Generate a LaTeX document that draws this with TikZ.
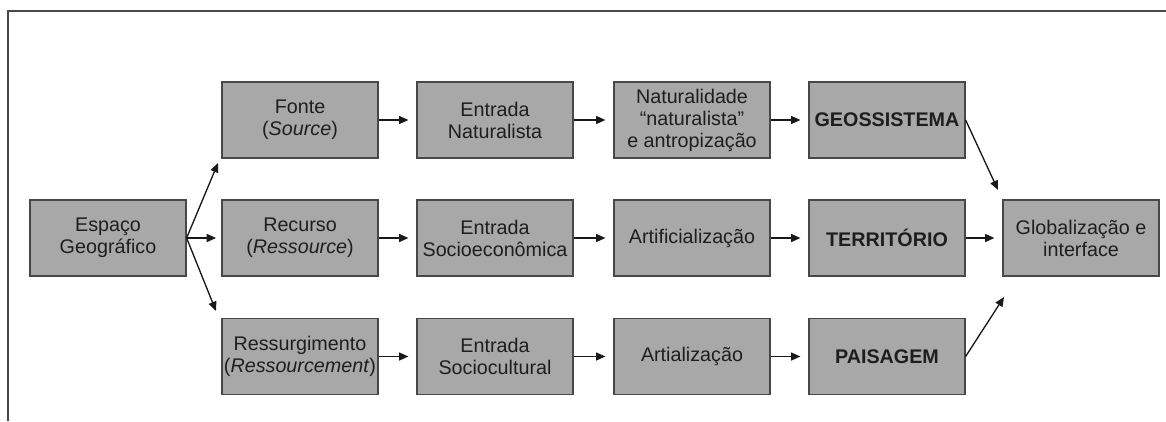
\documentclass[tikz,border=0pt]{standalone}
\usepackage{fontspec}
\setmainfont{Liberation Sans}
\usetikzlibrary{arrows.meta}
\definecolor{boxfill}{HTML}{A8A8A8}
\definecolor{boxline}{HTML}{484848}
\definecolor{txt}{HTML}{1E1E1E}
\definecolor{framec}{HTML}{484848}
\tikzset{
  stagebox/.style={draw=boxline, line width=0.9pt, fill=boxfill, text=txt,
    minimum width=117pt, minimum height=57pt, inner sep=0pt, align=center,
    font=\fontsize{14.8}{16.5}\selectfont},
  flowarrow/.style={draw=black!90, line width=1pt, -{Triangle[length=7pt,width=6pt]}},
}
\begin{document}
\begin{tikzpicture}[x=0.75pt,y=-0.75pt]
\useasboundingbox[fill=white] (0,0) rectangle (1166,421);
\draw[framec, line width=1.2pt] (8,421) -- (8,11) -- (1166,11);

\node[stagebox] (esp) at (108,238) {Espaço\\Geográfico};

\node[stagebox] (fon) at (300,120) {Fonte\\(\textit{Source})};
\node[stagebox] (rec) at (300,238) {Recurso\\(\textit{Ressource})};
\node[stagebox] (res) at (300,356.5) {Ressurgimento\\(\textit{Ressourcement})};

\node[stagebox] (ent1) at (495,120) {Entrada\\Naturalista};
\node[stagebox] (ent2) at (495,238) {Entrada\\Socioeconômica};
\node[stagebox] (ent3) at (495,356.5) {Entrada\\Sociocultural};

\node[stagebox] (nat) at (692,120) {Naturalidade\\``naturalista''\\e antropização};
\node[stagebox] (art) at (692,238) {Artificialização};
\node[stagebox] (artl) at (692,356.5) {Artialização};

\node[stagebox] (geo) at (887,120) {\textbf{GEOSSISTEMA}};
\node[stagebox] (ter) at (887,238) {\textbf{TERRITÓRIO}};
\node[stagebox] (pai) at (887,356.5) {\textbf{PAISAGEM}};

\node[stagebox] (glo) at (1081,238) {Globalização e\\interface};

\coordinate (t1) at (218,163);
\coordinate (t3) at (216,311);
\coordinate (g1) at (998,190);
\coordinate (g3) at (1004,297);

\draw[flowarrow] (esp.east) -- (t1);
\draw[flowarrow, shorten >=4pt] (esp.east) -- (rec.west);
\draw[flowarrow] (esp.east) -- (t3);

\foreach \a/\b in {fon/ent1, rec/ent2, res/ent3, ent1/nat, ent2/art, ent3/artl, nat/geo, art/ter, artl/pai, ter/glo}
  \draw[flowarrow, shorten >=6pt] (\a.east) -- (\b.west);

\draw[flowarrow] (geo.east) -- (g1);
\draw[flowarrow] (pai.east) -- (g3);
\end{tikzpicture}
\end{document}
